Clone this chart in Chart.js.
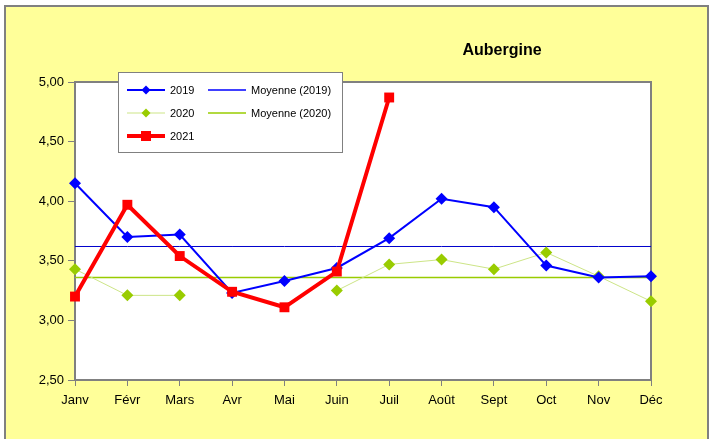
<!DOCTYPE html>
<html>
<head>
<meta charset="utf-8">
<script src="https://cdn.jsdelivr.net/npm/chart.js@4/dist/chart.umd.min.js"></script>
<style>
  html, body { margin: 0; padding: 0; background: #fff; }
  canvas { display: block; }
</style>
</head>
<body>
<canvas id="chart" width="709" height="439"></canvas>
<script>
const months = ['Janv', 'Févr', 'Mars', 'Avr', 'Mai', 'Juin', 'Juil', 'Août', 'Sept', 'Oct', 'Nov', 'Déc']
const values2019 = [4.15, 3.70, 3.72, 3.23, 3.33, 3.44, 3.69, 4.02, 3.95, 3.46, 3.36, 3.37]
const values2020 = [3.43, 3.21, 3.21, null, null, 3.25, 3.47, 3.51, 3.43, 3.57, 3.37, 3.16]
const values2021 = [3.20, 3.97, 3.54, 3.24, 3.11, 3.41, 4.87, null, null, null, null, null]
const moyenne2019 = 3.62
const moyenne2020 = 3.36
const chartTitle = 'Aubergine'

const FONT = '"Liberation Sans", Arial, sans-serif'
const BLUE = '#0000FF'
const GREEN = '#99CC00'
const PALE_GREEN = '#CDE587'
const RED = '#FF0000'
const FRAME = '#808080'

// legend entries, laid out like the excel box (two columns)
const legendItems = [
  { text: '2019', color: BLUE, width: 2, marker: 'diamond', col: 0, row: 0 },
  { text: 'Moyenne (2019)', color: BLUE, width: 1.5, col: 1, row: 0 },
  { text: '2020', color: PALE_GREEN, markerColor: GREEN, width: 1, marker: 'diamond', col: 0, row: 1 },
  { text: 'Moyenne (2020)', color: GREEN, width: 1.5, col: 1, row: 1 },
  { text: '2021', color: RED, width: 4, marker: 'square', col: 0, row: 2 }
]

const framePlugin = {
  id: 'frame',
  beforeDraw(chart) {
    const ctx = chart.ctx
    const a = chart.chartArea
    ctx.save()
    ctx.fillStyle = '#fff'
    ctx.fillRect(0, 0, chart.width, chart.height)
    ctx.fillStyle = '#FFFF99'
    ctx.fillRect(5, 6, 703, 440)
    ctx.strokeStyle = FRAME
    ctx.lineWidth = 2
    ctx.strokeRect(5, 6, 703, 440)
    ctx.fillStyle = '#fff'
    ctx.fillRect(a.left, a.top, a.right - a.left, a.bottom - a.top)
    ctx.restore()
  },
  beforeDatasetsDraw(chart) {
    const ctx = chart.ctx
    const a = chart.chartArea
    ctx.save()
    ctx.strokeStyle = FRAME
    ctx.lineWidth = 2
    ctx.strokeRect(a.left, a.top, a.right - a.left, a.bottom - a.top)
    ctx.restore()
  },
  afterDraw(chart) {
    const ctx = chart.ctx
    ctx.save()
    // title
    ctx.fillStyle = '#000'
    ctx.font = 'bold 16px ' + FONT
    ctx.textAlign = 'center'
    ctx.textBaseline = 'middle'
    ctx.fillText(chartTitle, 502, 51)

    // legend box
    ctx.fillStyle = '#fff'
    ctx.fillRect(118.5, 72.5, 224, 80)
    ctx.strokeStyle = FRAME
    ctx.lineWidth = 1
    ctx.strokeRect(118.5, 72.5, 224, 80)
    ctx.font = '11px ' + FONT
    ctx.textAlign = 'left'
    legendItems.forEach(item => {
      const y = 90 + item.row * 23
      const x0 = item.col == 0 ? 127 : 208
      const x1 = x0 + 38
      ctx.strokeStyle = item.color
      ctx.lineWidth = item.width
      ctx.beginPath()
      ctx.moveTo(x0, y)
      ctx.lineTo(x1, y)
      ctx.stroke()
      const cx = (x0 + x1) / 2
      ctx.fillStyle = item.markerColor || item.color
      if (item.marker == 'diamond') {
        ctx.beginPath()
        ctx.moveTo(cx, y - 4.5)
        ctx.lineTo(cx + 4.5, y)
        ctx.lineTo(cx, y + 4.5)
        ctx.lineTo(cx - 4.5, y)
        ctx.closePath()
        ctx.fill()
      } else if (item.marker == 'square') {
        ctx.fillRect(cx - 5, y - 5, 10, 10)
      }
      ctx.fillStyle = '#000'
      ctx.fillText(item.text, x1 + 5, y + 1)
    })
    ctx.restore()
  }
}

new Chart(document.getElementById('chart'), {
  type: 'line',
  data: {
    labels: months,
    datasets: [
      {
        label: '2021', data: values2021, order: 0, clip: false,
        borderColor: RED, backgroundColor: RED, borderWidth: 4,
        pointStyle: 'rect', pointRadius: 7, pointBorderWidth: 0, spanGaps: false
      },
      {
        label: '2019', data: values2019, order: 1, clip: false,
        borderColor: BLUE, backgroundColor: BLUE, borderWidth: 2,
        pointStyle: 'rectRot', pointRadius: 6, pointBorderWidth: 0
      },
      {
        label: '2020', data: values2020, order: 2, clip: false,
        borderColor: PALE_GREEN, backgroundColor: GREEN, borderWidth: 1,
        pointBackgroundColor: GREEN, pointBorderColor: GREEN,
        pointStyle: 'rectRot', pointRadius: 6, pointBorderWidth: 0, spanGaps: false
      },
      {
        label: 'Moyenne (2019)', data: months.map(() => moyenne2019), order: 3,
        borderColor: '#0000CC', borderWidth: 1, pointRadius: 0
      },
      {
        label: 'Moyenne (2020)', data: months.map(() => moyenne2020), order: 4,
        borderColor: GREEN, borderWidth: 1.5, pointRadius: 0
      }
    ]
  },
  options: {
    responsive: false,
    animation: false,
    devicePixelRatio: 1,
    layout: { padding: { left: 0, right: 58, top: 82, bottom: 0 } },
    elements: { line: { tension: 0 } },
    plugins: {
      legend: { display: false },
      tooltip: { enabled: false }
    },
    scales: {
      x: {
        offset: false,
        grid: { offset: false, drawOnChartArea: false, drawTicks: true, tickLength: 6, color: FRAME, lineWidth: 1 },
        border: { display: false },
        ticks: { color: '#000', font: { family: FONT, size: 13 }, padding: 7, maxRotation: 0, autoSkip: false },
        afterFit(scale) { scale.height = 59 }
      },
      y: {
        min: 2.5,
        max: 5,
        grid: { drawOnChartArea: false, drawTicks: true, tickLength: 7, color: FRAME, lineWidth: 1 },
        border: { display: false },
        ticks: {
          stepSize: 0.5,
          color: '#000',
          font: { family: FONT, size: 13 },
          padding: 4,
          callback: v => v.toFixed(2).replace('.', ',')
        },
        afterFit(scale) { scale.width = 75 }
      }
    }
  },
  plugins: [framePlugin]
})
</script>
</body>
</html>
